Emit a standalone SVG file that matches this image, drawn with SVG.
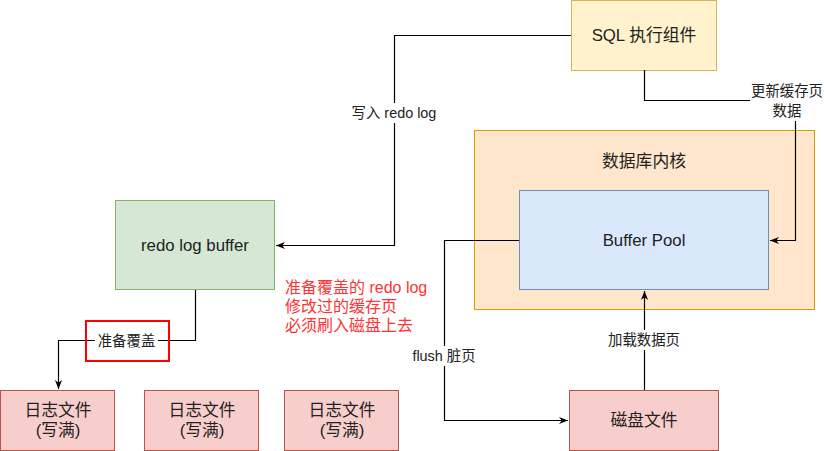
<svg xmlns="http://www.w3.org/2000/svg" width="825" height="451" viewBox="0 0 825 451">
<style>
text{font-family:"Liberation Sans","Noto Sans CJK SC",sans-serif;dominant-baseline:central;text-anchor:middle;fill:#222}
.n{font-size:16.8px}
.l{font-size:14.4px}
.r{font-size:16px;fill:#ff3333;text-anchor:start}
.e{fill:none;stroke:#000;stroke-width:1.2}
.bg{fill:#fff}
</style>
<defs>
<marker id="arr" viewBox="0 0 10 10" refX="10" refY="5" markerWidth="9" markerHeight="9" markerUnits="userSpaceOnUse" orient="auto"><path d="M0,1 L10,5 L0,9 L3,5 z" fill="#000"/></marker>
</defs>
<rect width="825" height="451" fill="#fff"/>
<g id="kernel"><rect x="474.5" y="130.5" width="340" height="179" fill="#ffe6cc" stroke="#d79b00"/><text class="n" x="644" y="161">数据库内核</text></g>
<g id="bufferpool"><rect x="519.5" y="190.5" width="249" height="99" fill="#dae8fc" stroke="#6c8ebf"/><text class="n" x="644" y="240">Buffer Pool</text></g>
<g id="sql"><rect x="571.5" y="0.5" width="145" height="70" fill="#fff2cc" stroke="#d6b656"/><text class="n" x="644" y="35">SQL 执行组件</text></g>
<g id="redobuffer"><rect x="115.5" y="200.5" width="159" height="89" fill="#d5e8d4" stroke="#82b366"/><text class="n" x="195" y="245">redo log buffer</text></g>
<g id="disk"><rect x="569.5" y="390.5" width="149" height="60" fill="#f8cecc" stroke="#b85450"/><text class="n" x="644" y="420">磁盘文件</text></g>
<g id="log1"><rect x="0.5" y="390.5" width="114" height="60" fill="#f8cecc" stroke="#b85450"/><text class="n" x="58" y="410">日志文件</text><text class="n" x="58" y="430">(写满)</text></g>
<g id="log2"><rect x="144.5" y="390.5" width="114" height="60" fill="#f8cecc" stroke="#b85450"/><text class="n" x="202" y="410">日志文件</text><text class="n" x="202" y="430">(写满)</text></g>
<g id="log3"><rect x="284.5" y="390.5" width="114" height="60" fill="#f8cecc" stroke="#b85450"/><text class="n" x="342" y="410">日志文件</text><text class="n" x="342" y="430">(写满)</text></g>
<g id="connectors">
<path class="e" d="M571,35.5 H394.5 V245.5 H276" marker-end="url(#arr)"/>
<rect class="bg" x="347" y="103" width="94" height="20"/><text class="l" x="394" y="113">写入 redo log</text>
<path class="e" d="M644.5,70 V100.5 H795.5 V240.5 H770" marker-end="url(#arr)"/>
<rect class="bg" x="750" y="81" width="75" height="40"/><text class="l" x="787" y="91">更新缓存页</text><text class="l" x="787" y="111">数据</text>
<path class="e" d="M519,240.5 H444.5 V420.5 H568" marker-end="url(#arr)"/>
<rect class="bg" x="410" y="346" width="69" height="20"/><text class="l" x="444" y="356">flush 脏页</text>
<path class="e" d="M644.5,390 V291" marker-end="url(#arr)"/>
<rect class="bg" x="606" y="330" width="77" height="20"/><text class="l" x="644" y="340">加载数据页</text>
<path class="e" d="M195.5,290 V340.5 H58.5 V389" marker-end="url(#arr)"/>
<rect class="bg" x="95" y="331" width="63" height="20"/><text class="l" x="126.5" y="341">准备覆盖</text>
<rect x="86" y="321" width="83" height="40" fill="none" stroke="#ff0000" stroke-width="2"/>
</g>
<g id="note"><text class="r" x="285" y="287">准备覆盖的 redo log</text><text class="r" x="285" y="306">修改过的缓存页</text><text class="r" x="285" y="325">必须刷入磁盘上去</text></g>
</svg>
